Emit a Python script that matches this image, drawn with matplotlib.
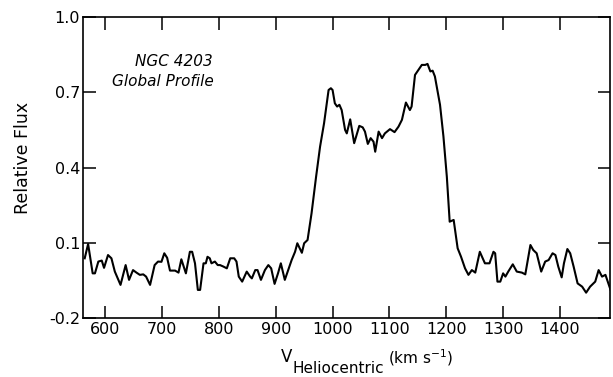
import matplotlib
matplotlib.use('Agg')
import matplotlib.pyplot as plt
import numpy as np

# velocities (km/s) and relative flux
velocity = [564, 570, 578, 582, 588, 594, 598, 605, 611, 617, 627, 636, 642, 649, 655,
            661, 667, 672, 679, 687, 693, 699, 704, 709, 714, 723, 729, 734, 742, 749,
            753, 758, 763, 767, 773, 777, 780, 784, 787, 793, 798, 802, 808, 814, 820,
            827, 831, 835, 841, 849, 855, 858, 864, 868, 874, 881, 887, 892, 898, 904,
            909, 916, 922, 928, 934, 938, 946, 950, 956, 963, 971, 978, 985, 993, 997,
            1000, 1004, 1008, 1012, 1016, 1022, 1025, 1031, 1038, 1047, 1053, 1057, 1062, 1067, 1072,
            1075, 1081, 1087, 1092, 1101, 1109, 1116, 1122, 1129, 1136, 1139, 1145, 1151, 1157, 1163,
            1167, 1172, 1176, 1180, 1189, 1195, 1201, 1206, 1213, 1220, 1226, 1233, 1239, 1245, 1251,
            1259, 1268, 1276, 1283, 1286, 1290, 1295, 1300, 1304, 1309, 1317, 1324, 1333, 1339, 1348,
            1353, 1359, 1367, 1374, 1380, 1387, 1392, 1397, 1403, 1407, 1413, 1418, 1424, 1431, 1439,
            1446, 1453, 1462, 1468, 1474, 1480, 1484, 1489]
flux = [0.038, 0.095, -0.022, -0.022, 0.025, 0.029, 0.0, 0.051, 0.038, -0.015, -0.068, 0.011, -0.048, -0.009, -0.019,
        -0.028, -0.026, -0.035, -0.068, 0.011, 0.025, 0.024, 0.058, 0.04, -0.011, -0.011, -0.019, 0.034, -0.022, 0.064,
        0.064, 0.018, -0.088, -0.088, 0.018, 0.018, 0.044, 0.038, 0.018, 0.025, 0.011, 0.011, 0.005, -0.002, 0.038,
        0.038, 0.025, -0.035, -0.055, -0.015, -0.035, -0.042, -0.009, -0.009, -0.048, -0.009, 0.011, -0.002, -0.064, -0.022,
        0.018, -0.048, -0.009, 0.031, 0.064, 0.098, 0.06, 0.098, 0.111, 0.217, 0.363, 0.483, 0.576, 0.709, 0.716,
        0.709, 0.656, 0.643, 0.65, 0.629, 0.55, 0.536, 0.592, 0.497, 0.566, 0.56, 0.543, 0.494, 0.517, 0.503,
        0.463, 0.543, 0.517, 0.536, 0.553, 0.541, 0.563, 0.59, 0.659, 0.629, 0.643, 0.769, 0.789, 0.809, 0.809,
        0.813, 0.783, 0.786, 0.763, 0.65, 0.524, 0.363, 0.184, 0.191, 0.078, 0.044, -0.002, -0.028, -0.009, -0.019,
        0.064, 0.018, 0.018, 0.064, 0.058, -0.055, -0.055, -0.022, -0.035, -0.015, 0.014, -0.015, -0.019, -0.026, 0.091,
        0.071, 0.058, -0.015, 0.025, 0.031, 0.058, 0.051, 0.005, -0.038, 0.018, 0.075, 0.058, 0.005, -0.062, -0.075,
        -0.099, -0.075, -0.055, -0.009, -0.035, -0.028, -0.055, -0.088]

xticks = [600, 700, 800, 900, 1000, 1100, 1200, 1300, 1400]
yticks = [-0.2, 0.1, 0.4, 0.7, 1.0]
ylabels = ['-0.2', '0.1', '0.4', '0.7', '1.0']

fig = plt.figure(figsize=(6.13, 3.77), dpi=100)
ax = fig.add_axes([83/613, 1-318/377, 527/613, 301/377])

ax.plot(velocity, flux, color='black', lw=1.5)
ax.set_xlim(561, 1488)
ax.set_ylim(-0.2, 1.0)

ax.set_xticks(xticks)
ax.set_xticklabels([str(v) for v in xticks])
ax.set_yticks(yticks)
ax.set_yticklabels(ylabels)
ax.tick_params(direction='in', length=9, width=1.1, top=True, right=True,
               labelsize=11.5, pad=3)
ax.tick_params(axis='y', pad=2)
for s in ax.spines.values():
    s.set_linewidth(1.2)

fig.text(23/613, 1-158/377, 'Relative Flux', rotation=90, ha='center', va='center', fontsize=12.5)

# label in upper left
fig.text(174/613, 1-66/377, 'NGC 4203', fontsize=11, style='italic', ha='center', va='baseline')
fig.text(112/613, 1-86/377, 'Global Profile', fontsize=11, style='italic', ha='left', va='baseline')

# x label: V with a full-size subscript, then units
fig.text(281/613, 1-362/377, 'V', fontsize=12, ha='left', va='baseline')
fig.text(292/613, 1-373/377, 'Heliocentric', fontsize=11, ha='left', va='baseline')
fig.text(388/613, 1-363/377, r'(km s$^{-1}$)', fontsize=11, ha='left', va='baseline')

fig.savefig('out.png', dpi=100)
